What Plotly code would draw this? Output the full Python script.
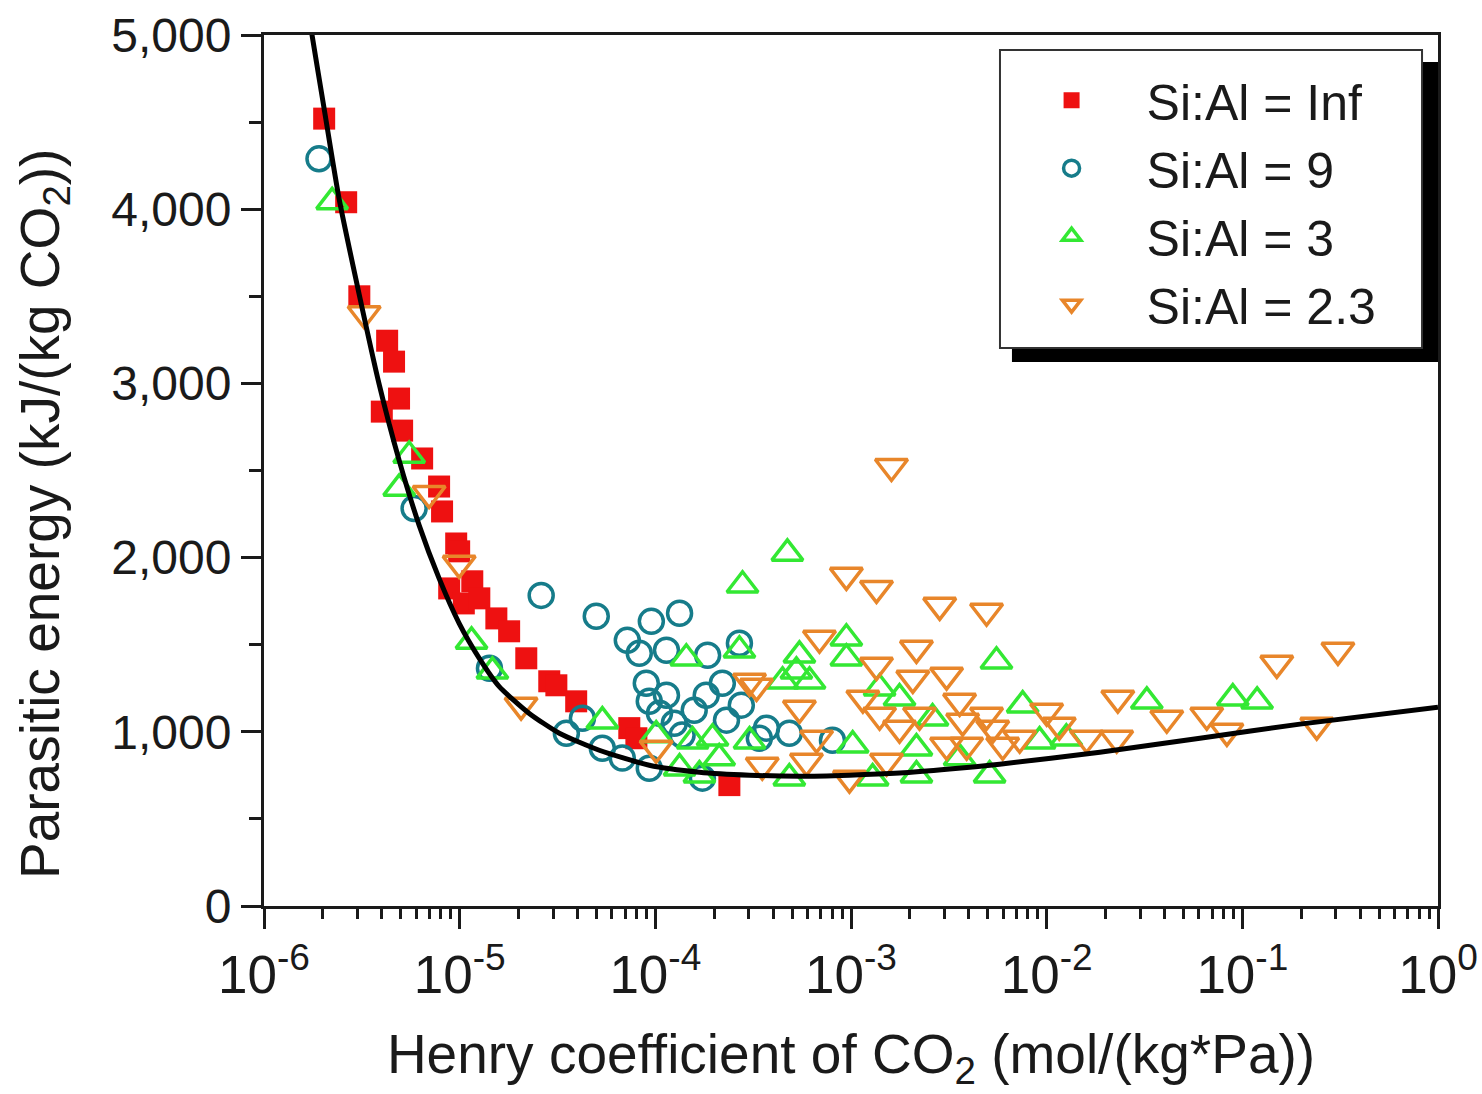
import plotly.graph_objects as go

# ---------------- data ----------------
inf_x = [2.03e-6, 2.63e-6, 3.07e-6, 4.26e-6, 4.62e-6, 4.9e-6, 4.0e-6, 5.08e-6, 6.43e-6, 7.85e-6,
         8.13e-6, 9.6e-6, 9.94e-6, 8.84e-6, 1.16e-5, 1.05e-5, 1.26e-5, 1.54e-5, 1.79e-5, 2.19e-5,
         2.87e-5, 3.12e-5, 3.94e-5, 7.36e-5, 8.0e-5, 2.39e-4]
inf_y = [4520, 4040, 3500, 3245, 3125, 2913, 2838, 2729, 2569, 2408,
         2265, 2081, 2036, 1823, 1864, 1737, 1766, 1651, 1577, 1422,
         1290, 1267, 1175, 1021, 963, 694]

s9_x = [1.91e-6, 5.85e-6, 1.42e-5, 2.61e-5, 4.99e-5, 9.54e-5, 1.33e-4, 7.19e-5, 8.28e-5, 1.14e-4,
        1.85e-4, 2.69e-4, 8.99e-5, 1.14e-4, 9.31e-5, 1.58e-4, 1.82e-4, 2.2e-4, 2.75e-4, 2.31e-4,
        1.37e-4, 3.51e-5, 4.24e-5, 5.36e-5, 6.78e-5, 9.31e-5, 1.74e-4, 3.7e-4, 4.84e-4, 8.04e-4,
        1.05e-4, 1.25e-4, 3.4e-4]
s9_y = [4289, 2282, 1365, 1783, 1663, 1634, 1680, 1525, 1451, 1468,
        1439, 1508, 1279, 1210, 1175, 1124, 1210, 1279, 1153, 1067,
        981, 992, 1078, 906, 849, 791, 734, 1021, 992, 952,
        1107, 1049, 963]

s3_x = [2.23e-6, 5.52e-6, 4.91e-6, 1.15e-5, 1.47e-5, 5.36e-5, 1.01e-4, 1.44e-4, 2.79e-4, 2.69e-4,
        1.55e-4, 1.96e-4, 1.68e-4, 4.73e-4, 5.45e-4, 9.47e-4, 9.47e-4, 4.47e-4, 6.14e-4, 5.26e-4,
        3.03e-4, 4.84e-4, 1.02e-3, 1.4e-3, 1.77e-3, 2.61e-3, 2.16e-3, 5.11e-3, 5.54e-3, 1.29e-3,
        2.16e-3, 7.54e-3, 3.25e-2, 8.94e-2, 0.119, 9.2e-3, 1.26e-2, 3.59e-3, 2.12e-4, 1.33e-4]
s3_y = [4042, 2586, 2397, 1519, 1347, 1061, 981, 1422, 1841, 1468,
        946, 963, 751, 2024, 1439, 1537, 1422, 1290, 1290, 1347,
        946, 734, 923, 1250, 1193, 1078, 906, 751, 1405, 734,
        751, 1153, 1175, 1193, 1175, 946, 963, 849, 849, 791]

s23_x = [3.25e-6, 6.98e-6, 9.94e-6, 2.06e-5, 1.01e-4, 3.03e-4, 1.61e-3, 9.47e-4, 1.35e-3, 2.84e-3,
         4.93e-3, 6.9e-4, 2.16e-3, 1.35e-3, 3.08e-3, 2.07e-3, 3.29e-4, 5.45e-4, 1.15e-3, 1.4e-3,
         1.77e-3, 2.24e-3, 3.59e-3, 3.72e-3, 4.93e-3, 5.3e-3, 6.67e-4, 3.52e-4, 5.92e-4, 9.82e-4,
         1.52e-3, 3.08e-3, 3.9e-3, 1.0e-2, 2.31e-2, 4.11e-2, 6.58e-2, 0.15, 0.308, 8.34e-2,
         0.24, 1.6e-2, 2.28e-2, 1.16e-2, 5.96e-3, 7.28e-3]
s23_y = [3400, 2368, 1967, 1153, 906, 1290, 2523, 1898, 1823, 1726,
         1692, 1537, 1479, 1382, 1325, 1307, 1261, 1135, 1193, 1095,
         1021, 1095, 1175, 1061, 1095, 1021, 963, 808, 831, 734,
         831, 923, 923, 1118, 1193, 1078, 1095, 1393, 1468, 1003,
         1038, 963, 963, 1038, 923, 963]

curve_x = [1.55e-6, 1.76e-6, 2.03e-6, 2.42e-6, 3.06e-6, 3.87e-6, 4.91e-6, 6.21e-6, 7.85e-6, 9.94e-6,
           1.26e-5, 1.59e-5, 2.26e-5, 3.23e-5, 5.17e-5, 9.31e-5, 1.68e-4, 3.03e-4, 5.45e-4, 9.82e-4,
           1.77e-3, 3.19e-3, 5.75e-3, 1.87e-2, 6.07e-2, 0.197, 1.0]
curve_y = [5400, 5000, 4576, 4060, 3515, 2999, 2557, 2185, 1881, 1623,
           1422, 1261, 1107, 992, 894, 808, 768, 751, 745, 751,
           763, 786, 814, 883, 963, 1044, 1141]

series_names = ["Si:Al = Inf", "Si:Al = 9", "Si:Al = 3", "Si:Al = 2.3"]

x_tick_vals = [1e-6, 1e-5, 1e-4, 1e-3, 1e-2, 1e-1, 1]
x_tick_text = ["10<sup>-6</sup>", "10<sup>-5</sup>", "10<sup>-4</sup>", "10<sup>-3</sup>",
               "10<sup>-2</sup>", "10<sup>-1</sup>", "10<sup>0</sup>"]
y_tick_vals = [0, 1000, 2000, 3000, 4000, 5000]

minor_x = [k * 10.0 ** e for e in range(-6, 0) for k in range(2, 10)]

AX = "#1a1a1a"

fig = go.Figure()
fig.add_trace(go.Scatter(x=inf_x, y=inf_y, mode="markers", name=series_names[0],
                         marker=dict(symbol="square", size=22, color="#EE1111", line=dict(width=0))))
fig.add_trace(go.Scatter(x=s9_x, y=s9_y, mode="markers", name=series_names[1],
                         marker=dict(symbol="circle-open", size=24, color="#167C8A", line=dict(width=3.5))))
fig.add_trace(go.Scatter(x=s3_x, y=s3_y, mode="markers", name=series_names[2],
                         marker=dict(symbol="triangle-up-open", size=27, color="#33E833", line=dict(width=3.5))))
fig.add_trace(go.Scatter(x=s23_x, y=s23_y, mode="markers", name=series_names[3],
                         marker=dict(symbol="triangle-down-open", size=28, color="#E8862A", line=dict(width=3.5))))
fig.add_trace(go.Scatter(x=curve_x, y=curve_y, mode="lines", showlegend=False,
                         line=dict(color="black", width=5, shape="spline", smoothing=0.6)))

fig.update_layout(
    width=1482, height=1094,
    margin=dict(l=264, r=44, t=35, b=188),
    plot_bgcolor="white", paper_bgcolor="white",
    font=dict(family="Liberation Sans, Arial, sans-serif", color=AX),
    legend=dict(x=0.624, y=0.970, xanchor="left", yanchor="top",
                bgcolor="rgba(0,0,0,0)", borderwidth=0,
                font=dict(size=50), itemwidth=140, tracegroupgap=0),
    shapes=[
        # legend drop shadow
        dict(type="rect", xref="paper", yref="paper", x0=0.6371, x1=1.0, y0=0.6246, y1=0.969,
             fillcolor="black", line=dict(width=0), layer="above"),
        # legend box
        dict(type="rect", xref="paper", yref="paper", x0=0.6269, x1=0.9864, y0=0.6406, y1=0.9828,
             fillcolor="white", line=dict(color="#333333", width=2), layer="above"),
    ],
    annotations=[
        dict(text="Parasitic energy (kJ/(kg CO<sub>2</sub>))", textangle=-90,
             xref="paper", yref="paper", x=-0.1874, y=0.450, xanchor="center", yanchor="middle",
             showarrow=False, font=dict(size=55, color=AX)),
    ],
)

fig.update_xaxes(
    type="log", range=[-6, 0],
    tickvals=x_tick_vals, ticktext=x_tick_text,
    ticks="outside", ticklen=20, tickwidth=2.5, tickcolor=AX,
    tickfont=dict(size=53), ticklabeloverflow="allow",
    minor=dict(tickvals=minor_x, ticks="outside", ticklen=10, tickwidth=2.5, tickcolor=AX, showgrid=False),
    showline=True, linecolor=AX, linewidth=3, mirror=True,
    showgrid=False, zeroline=False, automargin=False,
    title=dict(text="Henry coefficient of CO<sub>2</sub> (mol/(kg*Pa))", font=dict(size=55), standoff=32),
)
fig.update_yaxes(
    range=[0, 5000], tickvals=y_tick_vals, tickformat=",",
    ticks="outside", ticklen=20, tickwidth=2.5, tickcolor=AX,
    tickfont=dict(size=48), automargin=False,
    minor=dict(dtick=500, ticks="outside", ticklen=12, tickwidth=2.5, tickcolor=AX, showgrid=False),
    showline=True, linecolor=AX, linewidth=3, mirror=True,
    showgrid=False, zeroline=False,
)

fig.write_html("out.html")
